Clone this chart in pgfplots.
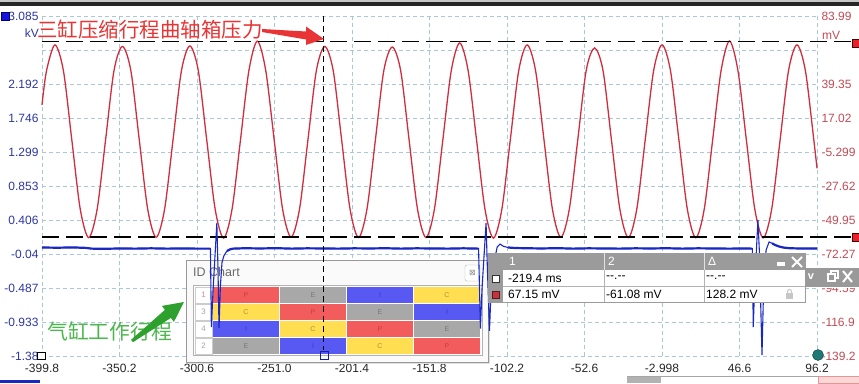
\documentclass[border=0pt]{standalone}
\usepackage{fontspec}
\setmainfont{Liberation Sans}
\newfontfamily\cjk{Noto Sans CJK SC}
\newfontfamily\dejavu{DejaVu Sans}
\usepackage{pgfplots}
\pgfplotsset{compat=1.18}
\definecolor{gridc}{RGB}{170,200,215}
\definecolor{kvc}{RGB}{45,55,165}
\definecolor{mvc}{RGB}{195,75,85}
\definecolor{redc}{RGB}{208,45,62}
\definecolor{bluec}{RGB}{25,40,195}
\definecolor{idP}{RGB}{243,92,92}
\definecolor{idE}{RGB}{168,168,168}
\definecolor{idI}{RGB}{88,88,242}
\definecolor{idC}{RGB}{255,222,82}
\definecolor{tP}{RGB}{195,65,65}
\definecolor{tE}{RGB}{120,120,120}
\definecolor{tI}{RGB}{60,60,190}
\definecolor{tC}{RGB}{175,145,50}
\definecolor{panelg}{RGB}{155,155,155}
\definecolor{annred}{RGB}{232,52,52}
\definecolor{anngreen}{RGB}{78,182,78}
\definecolor{arrgreen}{RGB}{45,160,45}
\newcommand\ticfont{\fontsize{12}{14}\selectfont}
\newcommand\idcell[5]{\fill[#3] (#1,#2) rectangle ++(66,-16);
  \node[inner sep=0pt, font=\fontsize{7}{7}\selectfont, text=#5] at (#1+33,#2-8) {#4};}
\newcommand\idlabel[3]{\filldraw[fill=white, draw=black!20] (195,#1) rectangle (212,#1-16);
  \node[inner sep=0pt, font=\fontsize{8}{8}\selectfont, text=#3] at (203.5,#1-8) {#2};}
\newcommand\nodash{-{}-.-{}-}
\pgfplotsset{base/.style={at={(42pt,27pt)}, anchor=south west, scale only axis,
  width=775pt, height=340pt, xmin=-399.8, xmax=96.2,
  axis line style={draw=none}, major tick length=0pt, tick style={draw=none}, clip=false}}
\begin{document}
\begin{tikzpicture}[x=1pt,y=1pt]
\fill[white] (0,0) rectangle (859,383);
\path[use as bounding box] (0,0) rectangle (859,383);
\fill[black!85] (0,377) rectangle (859,380.5);
\fill[black!22] (0,380.5) rectangle (859,383);
% bottom strip
\fill[bluec] (0,0) rectangle (40,3);
\draw[black!35] (627,6.5) -- (818,6.5);
\fill[black!30] (627,0) rectangle (661,6);
\filldraw[fill={rgb,255:red,252;green,215;blue,215}, draw={rgb,255:red,230;green,150;blue,150}] (818.5,0) rectangle (859,6.5);

% ---------- axis 1 : grid, left (kV) ticks, time ticks
\begin{axis}[base, ymin=-1.38, ymax=3.085,
  xtick={-399.8,-350.2,-300.6,-251.0,-201.4,-151.8,-102.2,-52.6,-3.0,46.6,96.2},
  xticklabels={-399.8,-350.2,-300.6,-251.0,-201.4,-151.8,-102.2,-52.6,-2.998,46.6,96.2},
  ytick={3.085,2.6385,2.192,1.7455,1.299,0.8525,0.406,-0.0405,-0.487,-0.9335,-1.38},
  yticklabels={3.085,,2.192,1.746,1.299,0.853,0.406,-0.04,-0.487,-0.933,-1.38},
  grid=major, major grid style={gridc, dash pattern=on 4pt off 3pt, line width=0.7pt},
  xticklabel style={font=\ticfont, text=black!85, yshift=-5pt},
  yticklabel style={font=\ticfont, text=kvc}]
\addplot[draw=none, forget plot] coordinates {(-399.8,0) (96.2,0)};
\end{axis}

% ---------- axis 2 : red signal, right (mV) ticks
\begin{axis}[base, ymin=-139.2, ymax=83.99, xtick=\empty,
  ytick={83.99,61.67,39.35,17.03,-5.29,-27.61,-49.93,-72.25,-94.57,-116.88,-139.2},
  yticklabels={83.99,,39.35,17.02,-5.299,-27.62,-49.95,-72.27,-94.59,-116.9,-139.2},
  yticklabel pos=right, yticklabel style={font=\ticfont, text=mvc, xshift=1pt}]
\addplot[redc, line width=1.3pt, smooth] coordinates {
(-399.80,25.6)
(-396.90,48.1) (-391.50,65.0) (-386.10,48.1) (-380.71,2.6) (-375.31,-42.9) (-369.91,-61.5) (-364.52,-42.9) (-359.12,2.6) (-353.73,48.1)
(-348.33,64.0) (-342.93,48.1) (-337.54,2.6) (-332.14,-42.9) (-326.74,-61.3) (-321.35,-42.9) (-315.95,2.6) (-310.56,48.1)
(-305.16,64.3) (-299.76,48.1) (-294.37,2.6) (-288.97,-42.9) (-283.57,-61.8) (-278.18,-42.9) (-272.78,2.6) (-267.39,48.1)
(-261.99,67.5) (-256.59,48.1) (-251.20,2.6) (-245.80,-42.9) (-240.40,-61.2) (-235.01,-42.9) (-229.61,2.6) (-224.22,48.1)
(-218.82,64.0) (-213.42,48.1) (-208.03,2.6) (-202.63,-42.9) (-197.23,-61.5) (-191.84,-42.9) (-186.44,2.6) (-181.05,48.1)
(-175.65,63.6) (-170.25,48.1) (-164.86,2.6) (-159.46,-42.9) (-154.06,-61.4) (-148.67,-42.9) (-143.27,2.6) (-137.88,48.1)
(-132.48,66.3) (-127.08,48.1) (-121.69,2.6) (-116.29,-42.9) (-110.89,-61.8) (-105.50,-42.9) (-100.10,2.6) (-94.71,48.1)
(-89.31,65.0) (-83.91,48.1) (-78.52,2.6) (-73.12,-42.9) (-67.72,-61.3) (-62.33,-42.9) (-56.93,2.6) (-51.54,48.1)
(-46.14,63.0) (-40.74,48.1) (-35.35,2.6) (-29.95,-42.9) (-24.55,-61.5) (-19.16,-42.9) (-13.76,2.6) (-8.37,48.1)
(-2.97,65.0) (2.43,48.1) (7.82,2.6) (13.22,-42.9) (18.62,-61.6) (24.01,-42.9) (29.41,2.6) (34.80,48.1)
(40.20,67.6) (45.60,48.1) (50.99,2.6) (56.39,-42.9) (61.79,-61.7) (67.18,-42.9) (72.58,2.6) (77.97,48.1)
(83.37,65.0) (88.77,48.1) (94.16,2.6) (96.20,-16.0)};
\draw[black, line width=1.1pt, dash pattern=on 17pt off 7pt] (axis cs:-399.8,67.15) -- (axis cs:118.6,67.15);
\draw[black, line width=1.1pt, dash pattern=on 17pt off 7pt] (axis cs:-399.8,-61.08) -- (axis cs:118.6,-61.08);
\end{axis}

% ---------- ID chart panel
\fill[black!12] (188,19) rectangle (490,121);
\filldraw[fill=black!2, draw=black!40] (186,21) rectangle (488,123);
\node[anchor=west, inner sep=0pt, font=\fontsize{12.5}{14}\selectfont, text=black!58] at (193,111) {ID Chart};
\filldraw[fill=white, draw=black!30, rounded corners=2pt] (465,118) rectangle (480,102);
\node[inner sep=0pt, font=\dejavu\fontsize{8}{8}\selectfont, text=black!45] at (472.5,110) {⊠};
\filldraw[fill=white, draw=black!30] (193,98) rectangle (482,28);
\idlabel{96}{1}{tP!60}
\idlabel{79}{3}{black!35}
\idlabel{62}{4}{black!35}
\idlabel{45}{2}{black!35}
\idcell{213}{96}{idP}{P}{tP}\idcell{280}{96}{idE}{E}{tE}\idcell{347}{96}{idI}{I}{tI}\idcell{414}{96}{idC}{C}{tC}
\idcell{213}{79}{idC}{C}{tC}\idcell{280}{79}{idP}{P}{tP}\idcell{347}{79}{idE}{E}{tE}\idcell{414}{79}{idI}{I}{tI}
\idcell{213}{62}{idI}{I}{tI}\idcell{280}{62}{idC}{C}{tC}\idcell{347}{62}{idP}{P}{tP}\idcell{414}{62}{idE}{E}{tE}
\idcell{213}{45}{idE}{E}{tE}\idcell{280}{45}{idI}{I}{tI}\idcell{347}{45}{idC}{C}{tC}\idcell{414}{45}{idP}{P}{tP}

% ---------- axis 3 : blue signal (kV)
\begin{axis}[base, ymin=-1.38, ymax=3.085, hide axis]
\addplot[bluec, line width=1.1pt] coordinates {
(-399.8,0.045) (-390,0.042) (-380,0.046) (-372,0.040) (-368,0.030) (-360,0.028) (-350,0.032) (-340,0.030)
(-330,0.034) (-320,0.030) (-310,0.032) (-300,0.030) (-292.0,0.030)
(-291.4,-1.00) (-290.4,-0.55) (-287.9,0.367) (-287.2,-0.2) (-286.5,-1.01) (-285.6,-0.45) (-284.6,-0.15)
(-283.3,-0.06) (-281.4,0.0) (-279.5,0.02) (-277.6,0.03)
(-270,0.035) (-260,0.032) (-250,0.036) (-240,0.030) (-230,0.034) (-220,0.032) (-210,0.030) (-200,0.034)
(-190,0.032) (-180,0.035) (-170,0.030) (-160,0.034) (-150,0.032) (-140,0.030) (-130,0.034) (-120.4,0.030)
(-119.2,-1.02) (-118.2,-0.5) (-115.6,0.367) (-114.8,-0.2) (-113.4,-1.05) (-112.4,-0.5) (-110.5,-0.15)
(-108.5,0.05) (-106.7,0.09) (-104.5,0.06) (-101.5,0.045) (-97,0.038)
(-90,0.035) (-80,0.032) (-70,0.036) (-60,0.030) (-50,0.034) (-40,0.032) (-30,0.030) (-20,0.034) (-10,0.032)
(0,0.035) (10,0.030) (20,0.034) (30,0.032) (40,0.030) (50,0.032) (54.8,0.030)
(55.4,-1.00) (56.4,-0.4) (58.4,0.406) (59.3,0.0) (61.0,-1.367) (62.0,-0.5) (63.6,0.01) (65.5,0.117)
(67.5,0.10) (69.3,0.078) (72,0.058) (74.4,0.045) (78.9,0.035) (85,0.032) (96.2,0.032)};
\addplot[bluec, line width=2.2pt] coordinates {
(-399.8,0.045) (-390,0.042) (-380,0.046) (-372,0.040) (-368,0.030) (-360,0.028) (-350,0.032) (-340,0.030)
(-330,0.034) (-320,0.030) (-310,0.032) (-300,0.030) (-292.0,0.030)};
\addplot[bluec, line width=2.2pt] coordinates {
(-281.4,0.0) (-279.5,0.02) (-277.6,0.03)
(-270,0.035) (-260,0.032) (-250,0.036) (-240,0.030) (-230,0.034) (-220,0.032) (-210,0.030) (-200,0.034)
(-190,0.032) (-180,0.035) (-170,0.030) (-160,0.034) (-150,0.032) (-140,0.030) (-130,0.034) (-120.4,0.030)};
\addplot[bluec, line width=2.2pt] coordinates {
(-101.5,0.045) (-97,0.038)
(-90,0.035) (-80,0.032) (-70,0.036) (-60,0.030) (-50,0.034) (-40,0.032) (-30,0.030) (-20,0.034) (-10,0.032)
(0,0.035) (10,0.030) (20,0.034) (30,0.032) (40,0.030) (50,0.032) (54.8,0.030)};
\addplot[bluec, line width=2.2pt] coordinates {
(67.5,0.10) (69.3,0.078) (72,0.058) (74.4,0.045) (78.9,0.035) (85,0.032) (96.2,0.032)};
\draw[black, line width=0.9pt, dash pattern=on 6pt off 4pt] (axis cs:-219.4,3.085) -- (axis cs:-219.4,-1.30);
\end{axis}

% cursor bottom square, corner markers
\draw[bluec!80!black, line width=0.8pt] (320,24) rectangle (328,32);
\filldraw[fill=white, draw=black, line width=0.8pt] (37,24) rectangle (45,31);
\filldraw[fill={rgb,255:red,20;green,20;blue,220}, draw={rgb,255:red,0;green,0;blue,110}] (1,363) rectangle (9,371);
\filldraw[fill={rgb,255:red,232;green,32;blue,42}, draw={rgb,255:red,70;green,0;blue,0}] (852,336) rectangle (859,344);
\filldraw[fill={rgb,255:red,232;green,32;blue,42}, draw={rgb,255:red,70;green,0;blue,0}] (852,142) rectangle (859,150);
\filldraw[fill={rgb,255:red,30;green,120;blue,115}, draw={rgb,255:red,10;green,60;blue,60}] (818,28) circle (5.5);

% unit labels
\node[anchor=east, inner sep=0pt, font=\ticfont, text=kvc] at (39,350) {kV};
\node[anchor=west, inner sep=0pt, font=\ticfont, text=mvc] at (822,348) {mV};

% ---------- secondary panel at right
\filldraw[fill=black!40, draw=white] (805,96) rectangle (859,116);
\node[inner sep=0pt, font=\bfseries\fontsize{11}{11}\selectfont, text=white] at (811,106.5) {v};
\draw[white, line width=1.2pt] (828,102) rectangle (835,109);
\draw[white, line width=1.2pt] (831,109) -- (831,112) -- (838,112) -- (838,105) -- (835,105);
\draw[white, line width=2pt] (843,101) -- (852,112) (843,112) -- (852,101);

% ---------- cursor table panel
\fill[panelg] (488,80) rectangle (806,130);
\fill[white] (503,81) rectangle (805,113);
\draw[black!30] (503,97) -- (805,97);
\draw[black!30] (604,81) -- (604,113) (704,81) -- (704,113);
\draw[white!70!panelg] (604,113) -- (604,130) (704,113) -- (704,130);
\node[anchor=west, inner sep=0pt, font=\ticfont, text=white] at (509,122) {1};
\node[anchor=west, inner sep=0pt, font=\ticfont, text=white] at (608,122) {2};
\node[anchor=west, inner sep=0pt, font=\ticfont, text=white] at (708,122) {Δ};
\fill[white] (777,117) rectangle (785,120.5);
\draw[white, line width=2pt] (792,126) -- (802,116) (792,116) -- (802,126);
\filldraw[fill=white, draw=black!80, line width=0.7pt] (492,101) rectangle (499,108);
\filldraw[fill={rgb,255:red,200;green,50;blue,60}, draw={rgb,255:red,80;green,30;blue,30}, line width=0.7pt] (492,85) rectangle (499,92);
\node[anchor=west, inner sep=0pt, font=\ticfont] at (508,105) {-219.4 ms};
\node[anchor=west, inner sep=0pt, font=\ticfont] at (606,105) {\nodash};
\node[anchor=west, inner sep=0pt, font=\ticfont] at (706,105) {\nodash};
\node[anchor=west, inner sep=0pt, font=\ticfont] at (508,89) {67.15 mV};
\node[anchor=west, inner sep=0pt, font=\ticfont] at (606,89) {-61.08 mV};
\node[anchor=west, inner sep=0pt, font=\ticfont] at (706,89) {128.2 mV};
\fill[black!22] (786,84) rectangle (793,90);
\draw[black!22, line width=1pt] (787.5,90) -- (787.5,91.5) arc (180:0:2) -- (791.5,90);

% ---------- annotations
\node[anchor=west, inner sep=0pt, font=\cjk\fontsize{20.5}{22}\selectfont, text=annred] at (37,353) {三缸压缩行程曲轴箱压力};
\fill[annred] (262,354) -- (306,351.5) -- (306,356.5) -- (324,344) -- (306,338) -- (306,343.5) -- (262,351) -- cycle;
\node[anchor=west, inner sep=0pt, font=\cjk\fontsize{20.8}{22}\selectfont, text=anngreen] at (47,52) {气缸工作行程};
\fill[arrgreen] (131.1,43.2) -- (164.9,73.1) -- (161.9,77.1) -- (184,81) -- (173.9,61.1) -- (170.9,65.1) -- (132.9,40.8) -- cycle;
\end{tikzpicture}
\end{document}
